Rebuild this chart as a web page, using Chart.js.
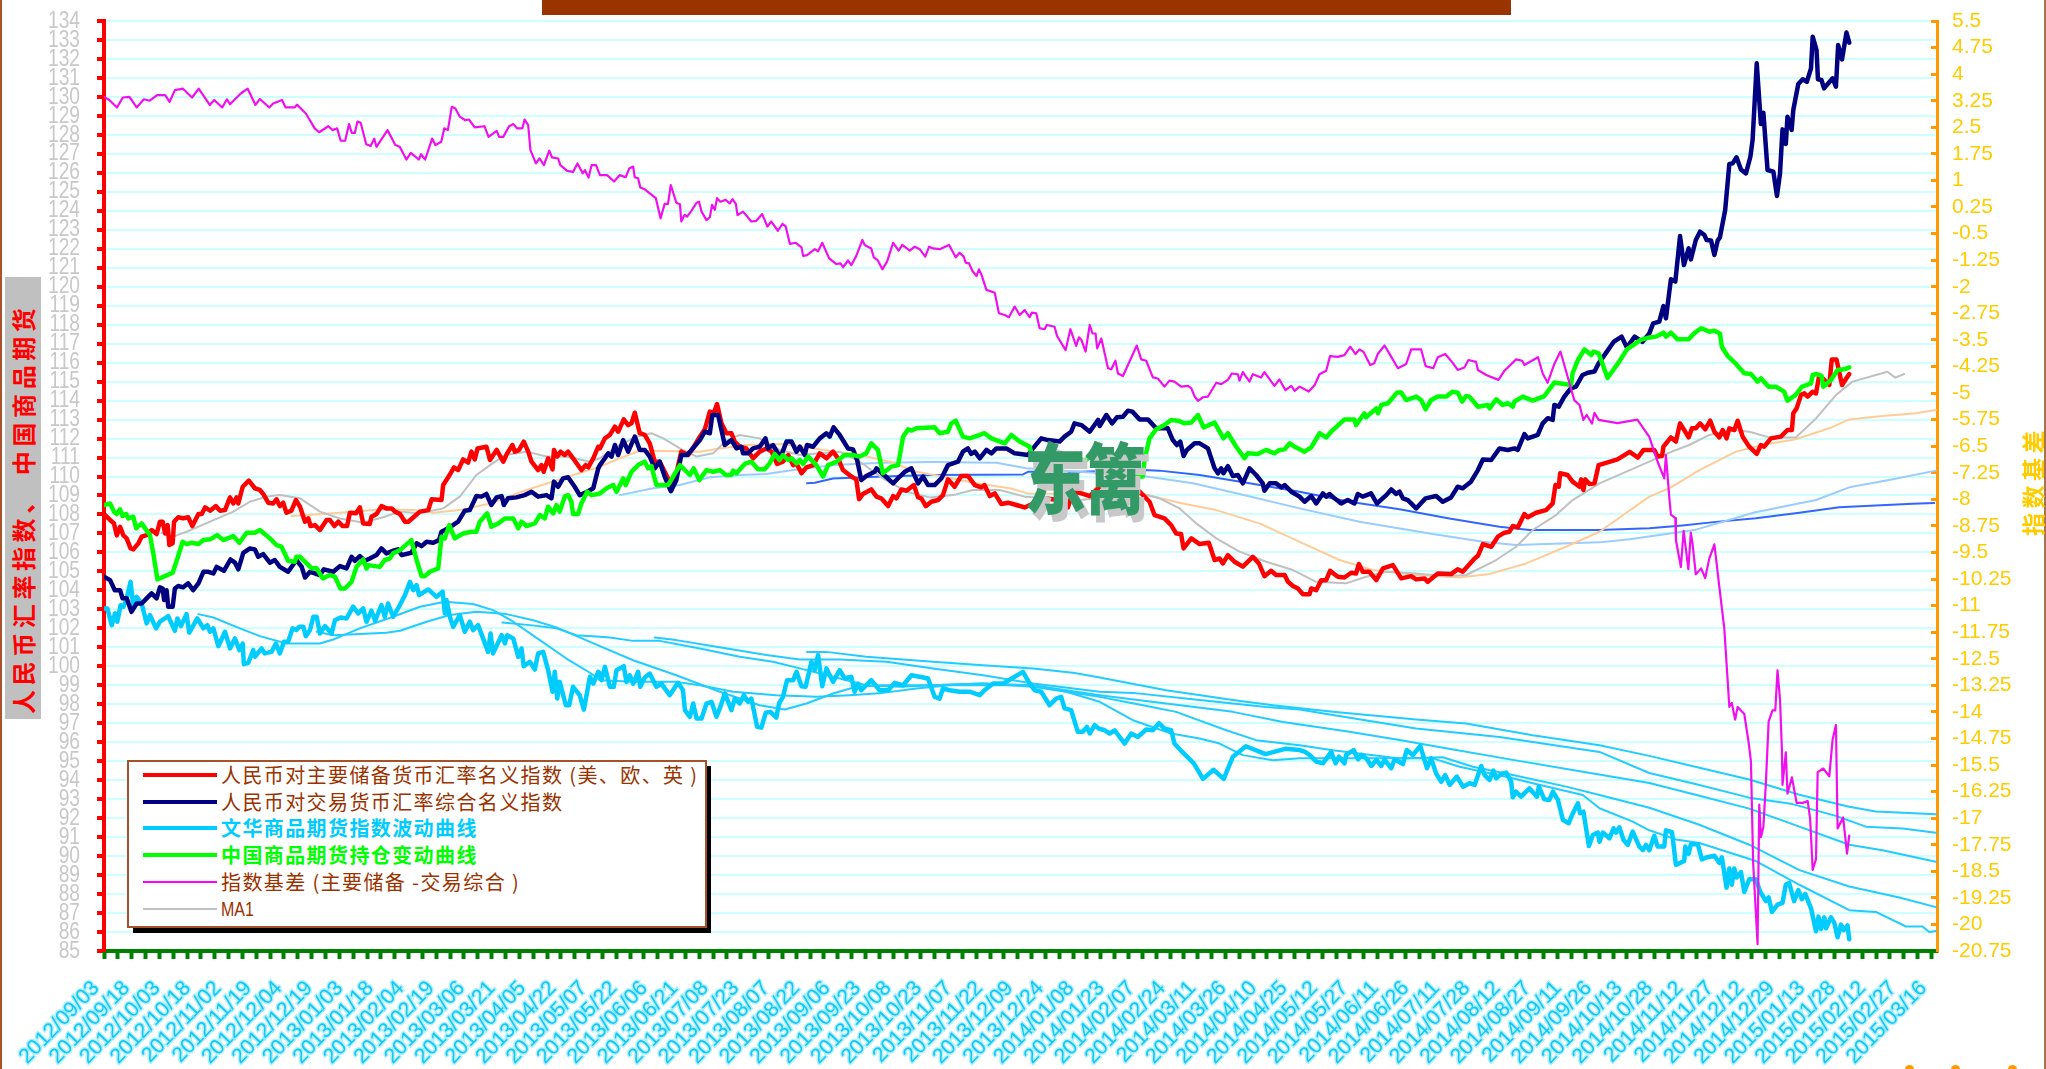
<!DOCTYPE html>
<html lang="zh">
<head>
<meta charset="utf-8">
<title>人民币汇率指数、中国商品期货</title>
<script src="https://cdn.jsdelivr.net/npm/chart.js@4"></script>
<style>
html,body{margin:0;padding:0;background:#fff;}
#wrap{position:relative;width:2046px;height:1069px;overflow:hidden;background:#fff;font-family:"Noto Sans CJK SC",sans-serif;}
canvas{position:absolute;left:0;top:0;}
.abs{position:absolute;}
#bar{left:542px;top:0;width:969px;height:15px;background:#993300;}
#edgeL{left:0;top:0;width:2px;height:1069px;background:#a8532a;}
#edgeR{left:2044px;top:0;width:2px;height:1069px;background:#a8734f;}
#boxL{left:5px;top:277px;width:36px;height:442px;background:#C0C0C0;}
.vtext{white-space:nowrap;transform-origin:0 0;transform:rotate(-90deg);font-weight:700;line-height:1;}
#titleL{left:11px;top:714px;color:#FF0000;font-size:24px;letter-spacing:4.6px;}
#titleR{left:2021px;top:536px;color:#FFCC00;font-size:23px;letter-spacing:4.5px;}
#legendShadow{left:133px;top:766px;width:578px;height:167px;background:#000;}
#legendBox{left:127px;top:760px;width:576px;height:164px;background:#fff;border:2px solid #A5522A;}
.lline{position:absolute;left:143px;width:74px;}
.ltext{position:absolute;left:221px;font-size:20px;letter-spacing:1.4px;line-height:26px;height:26px;white-space:nowrap;color:#993300;}
.wm{font-size:62px;font-weight:900;color:#339966;text-shadow:5px 6px 0 #C8C8C8;transform-origin:0 0;transform:scaleY(1.24);line-height:1;}
.dot{width:9px;height:9px;border-radius:50%;background:#FF9900;top:1065px;}
</style>
</head>
<body>
<div id="wrap">
<canvas id="c" width="2046" height="1069"></canvas>
<div id="bar" class="abs"></div>
<div id="edgeL" class="abs"></div>
<div id="edgeR" class="abs"></div>
<div id="boxL" class="abs"></div>
<div id="titleL" class="abs vtext">人民币汇率指数、 中国商品期货</div>
<div id="titleR" class="abs vtext">指数基差</div>
<div id="legendShadow" class="abs"></div>
<div id="legendBox" class="abs"></div>
<div id="legendRows"></div>
<div class="abs wm" style="left:1024px;top:436px;">东</div>
<div class="abs wm" style="left:1084px;top:436px;">篱</div>
<div class="abs dot" style="left:1905px;"></div>
<div class="abs dot" style="left:1951px;"></div>
<div class="abs dot" style="left:2008px;"></div>
</div>
<script>
const dateLabels = ["2012/09/03","2012/09/18","2012/10/03","2012/10/18","2012/11/02","2012/11/19","2012/12/04","2012/12/19","2013/01/03","2013/01/18","2013/02/04","2013/02/19","2013/03/06","2013/03/21","2013/04/05","2013/04/22","2013/05/07","2013/05/22","2013/06/06","2013/06/21","2013/07/08","2013/07/23","2013/08/07","2013/08/22","2013/09/06","2013/09/23","2013/10/08","2013/10/23","2013/11/07","2013/11/22","2013/12/09","2013/12/24","2014/01/08","2014/01/23","2014/02/07","2014/02/24","2014/03/11","2014/03/26","2014/04/10","2014/04/25","2014/05/12","2014/05/27","2014/06/11","2014/06/26","2014/07/11","2014/07/28","2014/08/12","2014/08/27","2014/09/11","2014/09/26","2014/10/13","2014/10/28","2014/11/12","2014/11/27","2014/12/12","2014/12/29","2015/01/13","2015/01/28","2015/02/12","2015/02/27","2015/03/16"];

const majorIdx = [0,2.2,3.6,4.6,5.8,7,8.2,9.6,10.6,12.4,13.6,15.4,17.2,19,20.2,21.2,22.1,23,23.6,24.8,25.3,26.8,28.6,30.4,31.9,34.1,35.3,36.5,38.3,40.4,41.9,43.7,45.5,46.7,47.9,48.5,50.1,52.3,54.5,56.3,57.5,59.3,61.1,62.3,63.5,64.7,65.9,67.7,69.3,70.8,72.6,73.8,74.6,76.2,78,80.4,81.6,83.2,84.6,86.2,87.8,88.8,91,92.4,93.6,96,96.6,98.4,100.2,102,103.9,105.1,106.9,108.7,109.9,112.3,114.1,117.1,118.3,121.9,122.5,124.3,126.4,127.9,129.7,131.5,132.7,133.9,134.9,138.1,139.4,141.8,144.2,145.6,147.5,148.4,149.9,151.6,153.2,154.4,156.8,158,158.8,160.4,162,162.5,163.7,164.9,166.4,167.6,169.4,172.4,174,174.9,176.7,178.5,179.1,180.9,182.7,184.5,185.7,187.7,189.3,190.5,191.7,193.5,195.3,197.1,198.9,200.7,202.5,203.7,205,206.7,208.5,211,213.4,215.2,217,218.8,220.2,221.4,223,224.8,226.6,227.8,229.6,232,234.4,236.8,239.2,241.1,243.1,245.2,247.1,248.9,250.1,251.9,253.7,256.1,258.5,260.9,263.3,265.1,266.9,269.9,271.7,272.7,274.1,277.1,279,280.7,283.2,285,286.2,288,289.8,292.5,294,295.2,296.8,298.8,301.2,303,304.8,307.2,309.6,312,314.5,316.8,318,319.9,321.7,324.1,326.5,329.5,332.5,339.7,344.5,345.7,348.1,350,353,356,359.6,372.2,374,377.6,379.4,383,385.4,387.2,389,389.9,392.7,395.7,399,401.1,402.9,404.1,405.9,408.3,411.3,414.9,417.1,419.1,421.5,423.3,426.4,427.6,429.4,431.2,433,435.4,436,437.8,439.6,441.4,442.8,445.6,448,450.4,452.2,453.2,454.6,457,459.5,461.9,465.5,468.5,472.1,473.9,476.9,478.1,481.7,486.5,488.9,490.7,495,496.2,498,501,503.4,505.8,507.6,508.8,510.6,513,514.2,517.2,520.8,523.2,524.2,525.4,525.9,528.6,530.4,532.9,533.5,534.3,535,536.5,538.3,539.8,546.6,551,554,556,558.1,559.9,561.1,562.7,563.2,565.9,567.7,569.2,570.7,572.3,573.5,574.9,576.4,578.3,580.1,581.6,583.4,584.6,586,587,588.8,590,591.8,594.2,596.9,598.4,599.6,602,605.6,608,609.6,610.1,611.3,612.9,614.1,615.3,617.1,618.3,619.5,620.7,623.1,624,625.7,627.7,630.3];
const majorVal = [108.02,107.71,107.53,106.9,107.35,106.9,106.74,106.21,106.16,106.48,106.83,106.91,107.18,106.97,107.62,107.62,107,107.44,106.39,106.48,107.62,107.85,107.8,107.85,107.39,108.02,108.02,108.37,108.2,108.44,108.2,108.23,108.9,108.58,108.9,108.58,109.46,109.78,109.38,109.29,109.08,108.62,108.58,108.8,108.44,108.62,108.09,108.2,108.76,108.41,107.62,107.8,107.39,107.44,107.18,107.71,107.71,107.39,107.62,107.39,107.39,108.09,108.06,108.37,107.53,107.5,107.88,108.02,108.44,108.32,108.32,108.15,108.02,107.62,107.62,107.92,108.15,108.23,108.8,108.76,109.55,109.96,110.48,110.34,110.9,110.73,111.31,110.9,111.48,111.57,110.87,111.4,110.78,111.22,111.66,111.31,111.4,111.84,111.31,110.78,110.34,110.6,110.25,110.96,110.38,111.4,111.05,111.31,111.13,111.31,110.96,110.34,110.6,110.48,110.96,111.57,111.48,112.01,112.19,112.63,112.36,113.01,112.71,112.8,113.36,112.28,112.19,111.75,110.78,110.78,110.25,109.9,109.29,110.17,111.31,111.13,111.66,112.1,112.49,113.42,113.33,113.82,112.8,112.28,112.28,111.84,111.57,111.48,110.96,111.31,111.48,111.31,110.66,110.78,111.13,110.6,110.69,110.17,110.48,110.6,111.22,110.96,111.31,110.96,110.34,110,109.85,108.8,109.08,109.32,108.94,108.85,108.44,108.97,108.85,109.32,109.25,109.55,108.9,108.85,108.44,108.67,108.76,109.02,109.85,109.46,110.03,110.03,109.55,109.43,109.55,108.97,109.11,108.55,108.62,108.5,108.37,108.85,108.76,108.32,108.37,109.2,109.11,108.97,109.46,109.46,109.2,108.67,107.97,107.79,107.44,107,106.97,106.21,106.74,106.44,106.51,105.6,105.68,105.42,105.86,105.51,105.25,105.77,105.42,104.75,105.03,104.81,104.81,104.45,104.23,104.1,103.8,103.8,104.1,104.01,104.54,104.54,105.03,104.72,104.68,104.93,104.89,105.39,104.98,104.98,104.54,105.16,105.33,104.63,104.75,104.58,104.63,104.45,104.89,104.86,105.11,104.98,105.68,105.82,106.44,106.3,106.83,107.04,107.09,107.39,107.32,108.02,107.85,108.09,108.23,108.58,109.55,109.46,110.17,110.08,109.73,109.46,109.85,109.29,109.85,109.6,109.64,110.6,110.9,111.3,111,111.4,111.4,111.4,111.05,111.08,111.57,112.06,111.84,112.8,112.45,112.06,112.54,112.54,112.8,112.49,112.94,112.36,112.06,112.45,112.01,112.54,112.45,112.94,112.1,111.57,111.19,111.66,111.57,112.01,112.1,112.45,112.45,113.33,113.59,114.3,114.38,114.21,114.47,114.38,115.35,115.17,114.82,116.17,116.17,114.82,115.4];

const tradeIdx = [0,2.2,3.9,5.8,6.7,8.2,9.9,11.8,13.6,15.4,17.2,19,20.2,21.2,21.7,22.6,23.2,24.8,25.6,26.8,28.6,30.4,32.2,34.1,35.9,37.7,39.5,40.7,43.3,45.7,47.3,48.5,50.3,52.7,54.5,55.7,57.5,59.9,61.7,63.5,66.5,69.5,71.4,72.6,74.4,76.2,78,79.4,82.8,85.2,87.6,89.4,90.6,92.4,94.2,96,98.4,100.2,102,104.4,106.2,107.5,111,112.9,114.7,116.5,118.9,121,121.9,124.3,127.9,130.3,132.1,134.5,136.3,138.1,139.9,141.8,143.6,144.4,145.9,148.9,151.9,154.4,156.8,159.8,161.6,162.5,164,165.8,167.6,170,171.8,174.5,176.7,178.5,179.1,180.9,182.1,183.3,184.5,185.7,187.5,189.3,191.7,193.5,195.3,197.1,198.9,200.7,202.5,204.7,206.7,208.5,210.6,212.2,215.2,217,218.8,219.7,221.8,223,224.2,226.6,228.4,230.2,230.8,232.6,234.4,236.8,238.9,239.8,241.6,243.4,244.6,246.5,248.3,250.1,251.3,253.1,253.9,256.1,258.5,260.9,262.1,263.5,265.7,268.7,270.5,272,273.5,275.3,278.3,279,282.6,285,287.4,289.2,291.6,294,295.8,297.6,300,302.4,304.8,308.4,310.2,312,313.2,314.5,316.3,318.7,320.5,322.3,325.9,328.9,333.7,335.5,338.5,340.9,345.1,346.9,349.3,350.5,353,356,359,359.6,362,364.1,365.8,368,369.8,371.4,374,377,380,384.2,386,387.5,388.7,389.9,391.1,393.9,395.7,398.7,401.1,402.3,403.5,404.3,405.9,407.7,409.5,411.3,413.7,416.1,418.5,419.1,421,423.3,425.2,426.4,428.8,431.8,433.6,436,437.8,440.2,441.4,442.6,444.4,446.8,449.2,451.6,452.8,454.6,457.6,459.7,463.1,464.9,466.7,467.9,469.1,470.9,473.9,477.3,481.1,483.5,486.5,488.9,490.7,493.7,496.2,498,501,504,507,509.4,510.6,513,514.2,517.8,519.6,521.4,523.2,523.8,525.4,527.4,529.8,531.6,534,535.9,538.3,539.8,542.4,545.2,548.1,550,552.8,555.6,558.1,559.5,561.7,563.2,564.1,565.9,567.5,569.2,570.6,572.3,573.1,574.9,576.4,578,578.8,580.4,581.6,582.8,583.6,585.5,587,588.2,589.6,591.2,593,594.6,595.4,596.9,598.4,599.3,600.8,602.9,604.2,605.3,606.2,607.4,608,609.5,610.1,611.9,613.5,615,616.5,617.1,618.5,619,620.3,621.2,624.3,625.5,626.3,627.7,629.3,630.3];
const tradeVal = [104.72,104.54,104.01,104.01,103.58,103.58,102.87,103.31,103.31,103.58,103.84,103.58,104.16,104.1,103.49,104.01,103.14,103.14,104.1,104.23,104.16,104.37,104.01,104.37,104.98,104.98,104.89,105.24,105.03,105.63,105.46,105.11,105.98,106.21,106.16,105.77,105.91,105.46,105.6,105.24,104.98,105.6,105.24,104.68,104.98,104.89,104.81,105.11,104.98,105.28,105.16,105.77,105.56,105.81,105.56,105.68,105.86,106.21,105.95,106.09,106.16,105.86,105.98,106.48,106.33,106.56,106.51,106.65,107.09,107.27,107.62,108.2,108.23,108.97,108.94,109.08,108.5,108.9,108.97,108.5,108.85,108.9,109.02,109.2,108.94,109.02,108.85,109.73,109.46,109.9,109.96,109.46,109.02,109.2,109.38,110.43,110.6,110.96,111.22,111.05,111.66,111.13,111.92,111.31,112.1,111.4,111.4,111.05,110.43,110.78,110,109.23,109.81,111.13,111.13,111.4,111.92,112.36,112.28,113.24,113.24,112.45,111.66,111.92,111.48,111.57,111.22,111.22,111.48,111.57,112.01,111.48,111.66,111.22,111.13,111.84,111.84,111.31,111.57,111.13,111.66,111.57,112.01,112.28,112.1,112.59,112.19,111.48,111.43,110.87,109.81,110.03,110.25,110.43,109.96,109.64,110,110.25,110.43,109.64,110,109.55,109.55,109.9,110.6,110.78,111.31,111.48,111.19,111.31,110.96,111.4,111.22,111.48,111.48,111.22,111.13,111.48,112.01,111.92,111.84,112.1,112.36,112.8,112.71,112.36,112.98,112.66,113.24,112.8,113.12,113.15,113.47,113.42,113.01,113.01,112.54,112.54,111.92,111.66,111.84,111.08,111.4,111.75,111.75,111.48,110.43,110.17,110.43,110.17,110.55,110.03,110.08,109.64,110.43,110.08,109.64,109.25,109.64,109.64,109.43,109.55,109.2,108.94,108.67,108.97,108.58,109.11,108.94,109.08,108.85,108.58,108.76,108.58,109.08,108.94,109.11,108.58,109.02,109.32,109.08,109.2,108.85,108.76,108.32,108.85,108.97,108.67,108.9,109.46,109.38,109.73,110.34,110.9,110.87,111.48,111.4,111.48,111.4,112.24,112.01,112.19,112.8,113.07,112.98,113.77,113.68,114.21,114.65,114.74,115.35,115.47,115.53,115.96,116.5,117.09,117.37,116.8,117.37,117.09,117.54,118.07,118.16,118.98,118.33,120.39,120.27,122.67,121.14,122.02,121.44,122.46,122.9,122.72,122.46,122.43,121.67,122.43,122.6,124.04,126.47,126.5,126.82,126.18,125.97,126.85,127.73,131.77,128.57,129.17,126.15,126.06,124.78,125.97,128.29,127.52,128.96,128.26,129.31,130.68,130.93,130.8,131.5,133.17,132.47,130.93,130.89,130.45,130.98,130.54,132.73,131.98,133.39,132.86];

const wenhuaIdx = [0,1.2,2.8,4,4.8,6,7,8.2,9.6,10.6,11.8,13.6,15.4,16.6,18.8,20.2,23.2,25.6,26.5,27.8,29.8,30.8,33.7,35.9,37.3,38.3,39.5,41.3,43.7,45.5,47.3,48.9,50.1,50.5,52.1,53.9,54.5,56.9,58.1,60.5,62.1,63.5,65,66.5,68.1,69.5,70.5,72,72.9,74.4,75.6,76.8,78,79.8,82.2,83.4,85.4,87.6,90,91.8,93.6,94.8,96.6,97.9,100.2,101.4,102.6,104.4,106.2,108.7,110.5,111.7,112.9,113.8,117.1,120.1,122.3,123.1,123.7,124.9,126.1,128.5,130.3,132.1,133.3,135.1,136.9,138.7,139.6,140.5,143.6,144.8,145.6,147.8,149.6,150.8,151.6,153.8,155.6,156.8,158.6,160.4,162,162.8,163.7,164.6,166.8,168,169.4,171.8,173.3,175.5,176.7,178.5,179.1,179.7,180.9,182.7,184.1,185.1,187.7,188.7,189.9,191.1,192.9,193.7,195.3,197.1,199.5,201.3,204.3,207.3,209.1,209.8,211.6,212.8,214,215.8,217.6,219.4,221.2,222.4,224.2,226.6,227.8,229.6,231.1,232.6,233.8,235.9,237.4,239,240.7,242.8,243.8,245.2,246.7,248.9,250.1,251.9,253.4,255.5,256.7,257.9,259.4,260.9,263.3,265.7,267.5,269.9,271.1,272.3,273.5,277.1,280.1,283.2,285.6,288.6,291.6,294.6,297.6,300,301.8,303,305.4,309,312.6,316.3,318,321.1,324.7,328.9,331.9,334.3,336.1,338.5,341.5,343.9,345.7,346.9,349.3,351.7,353.5,355,356,357.8,359.3,361.4,363.2,365,368.6,371,373.4,376.4,378.8,381,383,385.4,386.6,388.8,393.6,396.9,400.7,404.4,407.7,412.4,419.5,426.6,431.8,433.6,435.4,437.8,440.2,442,443.2,444.8,446,448,448.6,451.3,452.9,454.1,455.9,457.7,459.5,461.3,462.5,464.9,466.1,469.1,470.5,472.7,475.4,477.8,479.3,481.1,482.9,484.4,486,488.6,490.8,493.2,495,497.4,498.6,500.4,501.8,502.8,504.6,506.4,508.2,508.8,510,511.8,514.8,517.5,518.2,520.2,522,523.3,525.1,526.9,529,530.2,532.3,533.1,534.3,536.3,537.7,539.5,540.1,541.3,543.7,545.2,546.1,547.3,548.8,550.3,552.1,554.5,555.8,556.9,558.1,559.9,561.1,563.5,564.1,566.3,567.7,570.7,571.1,572.3,573.1,575.6,577.1,578.6,581.6,583.4,584.3,586,587,587.9,588.8,589.6,591.2,592.4,594.2,596.6,598.2,600.2,601.2,602.4,604.4,606.2,607.4,608.6,610.4,611.9,613.2,614.4,616.5,618.3,619.2,620.1,621.3,621.9,623.7,624.9,626.1,627.3,628.3,629.7,630.3];
const wenhuaVal = [103.05,103.05,102.17,102.79,102.35,103.22,103.14,103.58,104.45,103.14,103.66,103.31,102.26,102.7,102,102.35,102.64,101.87,102.52,102.12,102.75,101.77,102.52,102,102.17,101.82,102,101.06,101.82,100.94,101.47,100.85,101.2,100.11,100.18,100.85,100.5,100.94,100.68,100.76,101.2,100.68,101.29,101.29,102,101.91,102.08,102.08,101.59,101.91,102.61,102.61,101.73,102.12,101.73,102.43,102.57,102.52,103.14,102.79,103.05,102.35,102.93,102.4,103.22,102.61,103.31,102.61,103.05,103.75,104.45,104.01,104.28,103.75,104.05,103.66,103.93,102.79,103.49,102.61,102.08,102.7,101.82,102.35,101.91,102.17,101.47,100.76,101.73,100.68,101.64,101.2,101.64,101.47,100.5,100.94,100.01,100.24,99.83,100.68,100.76,99.8,98.66,99.71,98.3,99.18,97.95,97.95,98.92,98.48,97.72,99.45,99.09,99.71,99.62,99.27,99.97,98.92,98.92,99.8,100.01,99.18,99.53,99.09,99.71,98.92,99.41,99.62,98.92,99.09,98.48,99.13,98.74,97.69,97.34,98.04,97.25,97.25,98.04,98.13,97.34,97.78,98.57,97.69,98.3,98.04,98.48,98.13,98.3,96.81,96.77,97.55,97.6,97.3,98.04,98.39,99.27,99.27,99.71,98.95,98.92,100.24,99.8,100.59,98.95,99.89,99.18,99.8,99.36,99.45,98.66,99.09,98.74,99.27,98.74,98.74,99.13,99,99.53,99.45,99.36,98.39,98.3,98.83,98.74,98.66,98.66,98.48,98.74,99.09,99.09,99.45,99.71,99.09,98.74,98.66,97.95,98.3,98.39,97.78,97.69,96.55,96.55,96.81,96.46,96.9,96.72,96.63,96.46,96.63,95.93,96.46,96.28,96.67,96.63,97,96.72,96.63,95.93,95.58,94.89,94.07,94.55,94.07,95.24,95.79,95.37,95.65,95.59,95.5,95.33,94.98,94.89,95.24,95.5,94.89,95.24,94.89,95.33,95.59,95.1,95.33,95.15,94.75,95.07,94.75,95.07,94.63,95.1,94.85,95.59,95.33,95.8,94.63,95.15,94.36,93.92,94.27,93.75,94.19,93.66,93.84,93.75,94.75,94.27,94.01,94.5,94.1,94.33,94.4,93.92,93.1,93.4,93.13,93.57,93.13,93.66,92.99,92.96,93.4,92.96,91.9,91.73,92.17,92.78,92.26,92.34,90.53,91.11,91.24,90.76,91.24,90.94,91.46,91.24,91.52,90.85,90.59,91.29,90.5,90.32,90.59,90.31,91.07,90.5,90.5,91.36,91.26,89.54,89.74,90.5,90.12,90.63,90.63,89.83,89.93,90.02,89.64,89.93,88.34,89.35,88.49,89.35,88.87,89.16,88.11,88.78,88.78,88.11,87.63,87.82,87.06,87.44,87.54,88.49,88.59,87.63,88.21,87.73,88.01,87.25,86.04,86.81,86.16,86.77,86.2,86.77,86.49,85.72,86.39,86.1,86.35,85.62];

const holdIdx = [0,2.2,3.6,4.6,5.8,6.7,8,8.8,10.6,11.6,13.6,16.6,17.8,19.3,22,24.8,26.5,28.4,29.8,31.6,34.1,35.9,38.3,40.9,43.1,46.7,48.9,51.5,54.5,56.3,59.9,62.3,64.1,66.5,68.9,69.5,70.8,73.2,75,76.8,79,81.6,83.4,85.4,87,89.4,91.2,93.6,94.8,95.4,99.6,101.4,103.2,104.4,106.9,111,112.9,114.7,115.9,117.7,120.7,121.9,123.1,124.7,126.7,129.7,132.7,134.5,135.7,138.4,139.9,142.4,144.8,147.8,149.6,150.8,152.6,155.6,157.4,159.2,160.4,162.2,163.4,164.6,166.4,167.6,168.8,169.4,171.2,172.4,174.5,176,178.5,179.1,181.5,183.9,185.1,187.5,188.4,190.5,192.9,195.3,196.5,197.7,199.5,203.7,208,210.4,211.6,213,215,217.6,220,222.4,224.6,226.6,227.2,228.4,231.4,233.8,236.2,238.6,240.4,242.2,244,245.2,247.1,248.3,250.1,251.3,252.5,254.3,257.3,259.7,261.5,264.5,267.5,270.5,272.9,275.3,277.1,279.5,281.3,284.3,286.8,288.6,290.4,291.6,293.4,300,301.8,304.8,306,307.6,310.2,312.6,314.5,318,320.5,325.3,327.7,330.7,334.3,335.5,340.3,345.1,348.1,351.1,354.1,356.6,359.6,371.6,375.2,375.8,377.6,380,383,385.4,387.8,390.3,392.7,395.1,397.1,401.1,404.3,405.9,408.9,411.9,413.1,416.7,419.7,422.7,424.5,426.4,428.2,430,433.6,436,439,441.4,443.2,448,451.6,452.2,455.2,455.8,459.5,460.1,461.3,463.7,467,468.5,470.3,473.9,475.7,477.3,479.3,481.7,484.7,487.1,488.9,490.5,491.9,493.1,496.2,499.8,500.4,502.8,505.2,507,508.8,509.4,512.4,516,520.2,523.8,529.8,530.4,532.3,534.7,537.1,537.9,539.8,543,547,550,555,558.1,560.5,563.2,564.1,565.9,568.3,572.3,574.3,576.8,579.8,581.6,583.6,584.3,586.4,589.4,592.4,594.8,597.2,598.4,601.2,603.8,606.8,608,611,613.2,616.5,617.1,618.5,620.3,620.9,623.7,626.1,628.5,630.3];
const holdVal = [108.5,108.58,108.15,108.02,108.27,107.92,108.02,107.79,107.88,107.27,107.53,106.91,105.95,104.58,104.75,104.93,105.68,106.56,106.44,106.51,106.44,106.65,106.69,106.91,106.65,106.86,106.51,107.04,107.04,107.18,106.74,106.39,106.3,105.56,105.51,105.77,105.77,105.42,105.16,105.16,104.63,104.81,104.72,104.1,104.1,104.45,105.24,105.63,105.16,105.33,105.24,105.6,105.68,105.95,106.12,106.65,105.6,104.75,104.75,104.98,105.16,106.83,106.74,107.44,106.74,107,107.09,107.09,107.62,108.06,107.35,107.53,107.79,107.79,107.27,107.62,107.39,107.53,107.97,107.79,108.41,108.06,108.5,108.15,108.94,109.02,108.67,108.02,108.02,108.58,109.2,109.02,109.08,109.11,109.38,109.55,109.2,109.9,109.55,110.25,110.6,110.78,110.43,110.55,109.55,109.55,110.6,110.25,110.08,110.43,109.81,110.34,110.25,110.34,110.08,110.08,110.31,110.17,110.66,110.78,110.38,110.38,110.69,111.19,110.87,111.13,110.87,110.96,110.69,110.87,110.66,111.05,110.6,110,110.6,110.78,111.13,111.13,111.05,111.22,111.75,111.4,110.17,110.52,110.6,112.1,112.49,112.42,112.54,112.59,112.28,112.36,112.8,112.94,112.1,112.01,112.1,112.28,112.01,111.75,112.19,111.84,111.57,110.96,110.7,110.43,110.6,111.13,110.78,111.13,110.87,109.96,110,110.87,112.01,112.49,112.71,112.98,112.94,112.8,112.84,113.24,112.59,112.84,112.01,112.28,111.57,110.96,111.22,111.19,111.4,111.22,111.4,111.43,111.75,111.57,111.31,111.54,112.28,112.06,112.36,113.01,113.01,112.71,113.33,113.12,113.59,113.33,113.77,113.86,114.42,114.42,114.03,114.21,114.03,113.54,114.03,114.21,114.21,114.47,114.42,113.95,114.24,114.21,113.68,113.77,113.59,114.07,113.77,113.86,113.68,113.95,114.21,114,114.24,114.95,114.82,115.44,116.14,116.7,116.4,116.58,116.49,115.2,116,116.7,117.2,117.33,117.37,117.58,117.37,117.58,117.23,117.23,117.54,117.81,117.63,117.68,117.54,116.84,116.35,115.93,115.44,115.4,115,115.17,114.73,114.73,114.47,114,114.3,114.73,114.91,115.35,115.4,115.3,114.73,115.08,115.61,115.65,115.75];

const basisIdx = [0,1.9,4.7,6.8,9.2,11.8,14.4,16.5,19.2,22.1,23.7,25.6,28.5,31.8,34.2,38.2,39.8,42.7,44.4,45.5,49.5,51.9,54.7,56.3,59.7,61.1,64.3,65.6,68.9,69.7,72.9,76.1,77.7,81,82.6,84.2,85.5,87.1,88.5,89.5,90.6,91.5,92.7,94.7,96.3,97.6,98.4,102.4,105.2,106.8,109.2,110.8,113.7,114.5,116,118.5,119.7,121.8,122.9,124.2,125.6,126.9,128.5,130.5,131.8,133.9,137.4,138.9,141.8,142.7,144.2,146.3,147.9,149.2,151.1,151.9,153.2,154,156,157.3,158.9,160.8,161.8,164,164.8,167.3,169.4,171,172.9,173.7,175,176.1,177.7,179.1,181.7,184.2,186.3,188.4,189.7,191.1,191.7,192.9,193.7,195.3,199.3,201,202.5,203.7,204.7,206.7,208,208.5,209.7,210.6,212.2,214,214.9,215.8,217.6,218.8,219.6,220.6,221.4,222.6,224.5,226,227,228.2,228.8,230.8,233.8,235.6,237.7,239.6,241,243.4,245,246.2,247.7,249.8,251.9,252.5,253.9,256.7,257.9,259.4,261.9,264.5,266,266.9,268.7,269.9,271.7,273.9,274.7,277.1,278,279.5,281.1,282.8,285,287,288.3,291,292.8,294.6,296.6,298,299.4,301.8,305.2,307.6,309,310.5,311.2,312.4,313.6,315.1,316,316.8,318.7,321.7,323.2,325.3,326.8,328.9,330.7,332.5,334.3,335.1,336.7,337.9,339.7,340.5,343.3,344.2,347.3,349,351.1,352.1,353,354.5,356,357,358.1,358.7,360.2,362.6,363.8,365.3,366.2,368,373,374.6,376.4,378.8,380.6,383,384.8,386.6,389,391.5,392.7,393.9,395.1,396.9,398.7,401.7,403.5,405.9,407.3,409.5,410.1,411.3,413.7,414.9,417.9,419.1,422.7,424.5,426.7,428.8,430,431.8,435.1,437.2,439,441.4,442.8,445.6,448,450.1,452,453.4,454.9,457.3,458.8,460,462.5,464.9,467.3,470.3,472.1,475.7,477.3,480.1,481.7,484.4,487.1,488.9,491.3,492.8,495.5,496.2,499.2,503.6,505.8,510,512.2,513,517.9,519.6,521.4,523.8,526,527.4,529.8,531,532.9,534.3,535.5,537.4,538.3,539.8,546.6,553.8,558.1,559.3,561.1,563.5,564.1,565.3,565.9,567.5,567.7,569.5,570.5,572.2,573.1,573.7,574.9,576.8,578.3,579.8,581.6,583.4,585.2,587,587.9,589.1,590,592.4,594,594.8,595.6,597.2,597.8,598.4,599.3,600.2,601.2,602.6,603.6,604.4,605.3,606,606.2,607.4,608,609.6,611.3,613.5,615.3,616.2,617.1,618.3,618.9,620.9,623.1,624.3,625.5,626.1,628.1,629.5,630.3];
const basisVal = [3.36,3.27,3.06,3.34,3.36,3.06,3.29,3.25,3.41,3.41,3.22,3.55,3.59,3.34,3.59,3.13,3.27,3.06,3.29,3.15,3.46,3.59,3.13,3.3,3.06,3.17,3.27,3.06,3.06,3.14,2.89,2.47,2.36,2.53,2.42,2.47,2.12,2.12,2.59,2.34,2.34,2.66,2.63,2.02,1.97,2.18,1.95,2.42,2,1.95,1.59,1.78,1.59,1.74,1.59,2.18,2,2.09,2.47,2.42,3.08,3.03,2.8,2.7,2.72,2.5,2.53,2.23,2.4,2.23,2.23,2.53,2.59,2.47,2.47,2.72,2.56,1.86,1.48,1.62,1.43,1.84,1.65,1.62,1.43,1.27,1.24,1.48,1.2,1.29,1.08,1.43,1.43,1.15,1.15,0.97,1.15,1.09,1.34,1.39,1.09,1.06,0.8,0.75,0.5,-0.07,0.34,0.34,0.87,0.37,0.33,-0.16,0.03,-0.02,0.15,0.37,0.4,0.12,-0.12,-0.04,0.31,0.17,0.5,0.4,0.45,0.35,0.47,0.34,0.02,0.12,-0.16,-0.14,0.05,-0.3,-0.16,-0.42,-0.23,-0.3,-0.79,-0.76,-0.89,-1.13,-1.11,-0.94,-1,-0.76,-1.2,-1.36,-1.34,-1.45,-1.26,-1.39,-1.13,-0.68,-0.82,-0.92,-1.17,-1.26,-1.51,-1.29,-0.76,-0.98,-0.82,-0.98,-0.87,-0.94,-1.15,-0.87,-0.92,-0.94,-0.82,-1.17,-1.04,-1.15,-1.32,-1.34,-1.55,-1.7,-1.51,-1.64,-2.09,-2.17,-2.75,-2.8,-2.86,-2.56,-2.8,-2.66,-2.86,-2.73,-2.75,-3.17,-3.2,-3.08,-3.13,-3.39,-3.79,-3.2,-3.67,-3.43,-3.5,-3.83,-3.08,-3.32,-3.32,-3.74,-3.46,-4.3,-4.33,-4.09,-4.45,-4.52,-3.66,-4.05,-4.09,-4.56,-4.59,-4.82,-4.65,-4.68,-4.82,-4.8,-4.87,-5.1,-5.22,-5.12,-5.1,-4.71,-4.75,-4.63,-4.45,-4.47,-4.65,-4.41,-4.68,-4.47,-4.56,-4.41,-4.8,-4.62,-4.92,-4.8,-4.94,-4.82,-4.96,-4.78,-4.47,-4.37,-3.96,-3.98,-3.93,-3.69,-3.9,-3.77,-3.84,-4.21,-4.16,-3.9,-3.66,-3.98,-4.3,-4.18,-3.77,-3.77,-4.24,-4.3,-3.99,-3.9,-4.15,-4.35,-4.28,-4.07,-4.12,-4.35,-4.49,-4.63,-4.37,-4.05,-4.09,-4.21,-3.99,-4.45,-4.71,-4.18,-3.83,-4.21,-4.87,-5.2,-5.34,-5.76,-5.62,-5.86,-5.56,-5.76,-5.85,-5.75,-6.24,-6.52,-6.94,-7.41,-6.75,-7.93,-8.43,-8.53,-9.15,-9.91,-8.89,-9.97,-8.94,-9.25,-10.12,-9.95,-10.22,-9.66,-9.27,-10.48,-11.66,-13.86,-13.75,-14.22,-13.86,-14.06,-14.88,-15.39,-18.26,-20.56,-16.62,-17.54,-17.24,-16.01,-14.27,-13.96,-13.96,-12.83,-13.65,-15.09,-16.06,-15.14,-16.31,-15.85,-16.57,-16.57,-16.52,-17.03,-18.46,-18.16,-15.7,-15.6,-15.82,-14.78,-14.37,-17.29,-16.98,-18,-17.49];

const ma1Idx = [20.8,25,29.8,38.3,46.7,52.7,58.7,63.5,70.8,78,85.2,93.6,100.8,106.9,114.1,122.5,128.5,134.5,139.4,144.8,152.6,159.8,167,175.5,179.1,185.1,192.3,197.7,202,208,214,220,224.8,229.6,236.8,244,251.3,258.5,265.7,273,281.3,289.8,298.2,306.6,313.8,323.5,332.5,352.3,375.2,381.2,388.5,394.5,401.7,410.1,419.7,429.4,437.8,448.6,455.8,463.1,473.9,484.7,492,502.8,510,516,524.4,530.4,540.1,558.1,565.3,572.5,579.8,588.2,594.2,601.4,611,618.3,625.5,631.5,639.9,644.1,646.9,650.2];
const ma1Val = [107.04,106.83,107.09,107.62,108.15,108.67,108.94,109.02,108.85,108.15,107.79,107.57,107.85,108.15,108.06,108.32,108.94,110.08,110.6,111.13,111.31,111.05,111.05,110.78,110.96,111.57,112.1,112.28,112.01,111.48,111.05,111.22,111.92,112.19,112.01,111.4,111.13,111.22,111.31,110.78,109.9,109.2,108.9,109.02,109.29,109.29,108.94,108.76,109.08,108.85,108.32,107.53,106.74,106.04,105.51,105.07,104.45,104.37,104.72,104.98,104.89,104.75,104.81,105.6,106.3,107.18,107.97,108.76,109.64,110.78,111.26,111.66,112.19,112.45,112.36,112.06,112.06,113.06,114.29,115,115.35,115.52,115.21,115.4];

const ma2Idx = [67.7,82.8,100.8,111.7,118.9,128.5,139.4,152.6,167,179.1,186.3,193.5,203.1,215.2,222.4,232,245.2,258.5,273,283.8,293.4,304.2,315.1,327.1,333.7,375.2,389.6,401.7,417.3,431.8,446.2,458.2,473.9,489.5,500.4,513.6,528,540.1,558.1,565.3,576.2,589.4,599,611,623.1,630.3,642.3,654.4,661.6];
const ma2Val = [107.92,108.06,108.27,108.23,108.09,108.23,108.58,109.29,109.96,110.52,110.96,111.36,111.34,111.31,111.48,111.66,111.71,111.43,111.13,110.78,110.25,109.96,109.64,109.38,109.11,109.08,108.58,108.23,107.53,106.56,105.6,105.07,104.81,104.68,104.86,105.42,106.3,107.09,108.94,109.38,110.34,111.31,111.66,111.96,112.54,113.01,113.19,113.33,113.5];

const ma3Idx = [186.3,198.3,208,218.8,229.6,239.2,248.9,263.3,281.3,299.4,322.3,333.1,375.2,393.3,410.1,431.8,453.4,479.9,498,510,540.1,551,575,596,618.3,630.3,644.7,661.6];
const ma3Val = [109.02,109.38,109.55,109.96,110.08,110.13,110.34,110.6,110.73,110.76,110.73,110.43,110.03,109.64,109.08,108.32,107.62,106.97,106.56,106.39,106.53,106.7,107.2,108.1,108.76,109.43,109.82,110.31];

const ma4Idx = [253.9,256.7,263.3,281.3,299.4,331.9,333.7,352.3,375.2,381.2,395.7,413.7,431.8,449.8,467.9,485.9,504,514.8,540.1,558.1,570.1,582.2,596.6,612.3,626.7,639.9,653.2,661];
const ma4Val = [109.64,109.67,109.9,110,110.08,110.11,110.25,110.25,110.34,110.31,110.08,109.64,109.2,108.67,108.27,107.79,107.35,107.18,107.18,107.27,107.42,107.61,107.8,108.09,108.38,108.47,108.57,108.6];

const wmaAIdx = [34.1,39.5,49.1,56.3,65.9,78,82.8,92.4,104.4,114.1,123.1,133.3,140.5,147.8,157.4,167,175.5,179.1,191.1,206.7,215.2,227.2,242.8,257.3,269.3,281.3,293.4,305.4,335.5,347.5,359.6,371.6,385.4,395.7,402.9,411.3,422.1,431.8,479.9,489.6,508.8,516,534.1,540.1,552.1,558.1,567.7,576.2,596.6,612.3,630.3,639.9,650.8,656.8,659.2,661.6];
const wmaAVal = [102.75,102.57,102,101.59,101.2,101.2,101.41,102,102.61,103.14,103.4,103.28,102.96,102.35,101.38,100.41,99.66,99.27,99.18,99.18,99,98.66,98.48,98.39,98.48,98.6,98.83,99,99,98.66,98.13,97.16,96.46,96.2,95.93,95.32,95.05,95.15,95.15,94.71,94.1,93.84,93.22,92.52,91.82,91.36,90.88,90.69,89.74,88.49,87.15,87.06,86.29,86.29,86,86.05];

const wmaBIdx = [76.8,82.8,102,106.9,116.5,124.9,134.5,145.4,155,163.4,179.1,191.1,206.7,222.4,236.8,245.9,253.7,263.3,271.7,281.3,298.2,317.5,335.5,359.6,375.2,387.2,405.3,416.1,431.8,443.8,467.9,483.5,494.4,508.8,528.1,540.1,558.1,576.2,594.2,612.3,630.3,648.4,661.6];
const wmaBVal = [101.82,101.64,101.77,101.87,102.35,102.7,102.87,102.75,102.43,102.05,101.06,100.32,99.53,98.66,97.95,97.72,98.04,98.57,98.92,99,99,99.09,98.92,98.39,97.95,97.6,96.63,96.11,95.84,95.58,95.14,95.21,94.71,94.27,93.66,93.22,92.55,91.65,90.6,89.26,88.4,87.82,87.31];

const wmaCIdx = [143.9,153.8,163.4,170.6,179.1,182.7,191.1,200.7,215.2,229.6,241.6,251.3,263.3,275.3,287.4,299.4,317.5,335.5,359.6,383.6,407.7,425.8,449.8,467.9,484.7,508.8,534.1,558.1,576.2,594.2,612.3,630.3,642.3,661.6];
const wmaCVal = [102.31,102.17,102,101.64,101.56,101.52,101.34,101.34,100.94,100.5,100.24,99.89,99.45,99,98.92,99,99.09,99,98.48,98.04,97.6,97.07,96.55,96.12,95.68,95.07,94.45,93.85,93.18,92.5,91.55,90.6,90.31,89.7];

const wmaDIdx = [198.9,206.7,221.2,239.2,251.3,265.7,282.6,299.4,317.5,335.5,359.6,371.6,395.7,419.7,431.8,443.8,473.9,504,540.1,558.1,576.2,594.2,609.8,625.5,636.3,649.6,661.6];
const wmaDVal = [101.52,101.38,101.03,100.59,100.36,100.36,100.24,99.89,99.53,99.09,98.66,98.6,98.22,97.86,97.72,97.43,96.72,96.28,95.49,94.38,93.75,93.08,92.74,92.12,91.55,91.46,91.23];

const wmaEIdx = [253.9,260.9,275.3,299.4,317.5,335.5,350,359.6,383.6,407.7,422.1,443.8,473.9,491.9,516,540.1,558.1,576.2,594.2,612.3,630.3,639.9,661.6];
const wmaEVal = [100.76,100.76,100.5,100.24,100.06,99.89,99.66,99.41,98.74,98.22,97.95,97.6,97.2,96.99,96.37,95.84,95.28,94.65,94.04,93.23,92.6,92.35,92.2];

const seriesNames = ["人民币对主要储备货币汇率名义指数 (美、欧、英 )","人民币对交易货币汇率综合名义指数","文华商品期货指数波动曲线","中国商品期货持仓变动曲线","指数基差 (主要储备 -交易综合 )","MA1"];
const seriesColors = ["#FF0000","#000080","#00CCFF","#00FF00","#FF00FF","#C0C0C0"];

const zip = (xs, ys) => xs.map((x, i) => ({ x, y: ys[i] }));
const line = (label, xs, ys, color, width, order, yAxisID = "y") => ({
  label, data: zip(xs, ys), borderColor: color, backgroundColor: color, borderWidth: width,
  pointRadius: 0, tension: 0, order, yAxisID, xAxisID: "x", borderJoinStyle: "round", borderCapStyle: "round"
});

const datasets = [
  line(seriesNames[4], basisIdx, basisVal, "#EE11EE", 2.2, 1, "yR"),
  line(seriesNames[3], holdIdx, holdVal, "#00FF00", 4.5, 2),
  line(seriesNames[1], tradeIdx, tradeVal, "#000080", 4.5, 3),
  line(seriesNames[2], wenhuaIdx, wenhuaVal, "#00CCFF", 4.5, 4),
  line(seriesNames[0], majorIdx, majorVal, "#FF0000", 4.5, 5),
  line(seriesNames[5], ma1Idx, ma1Val, "#C0C0C0", 2, 6),
  line("MA2", ma2Idx, ma2Val, "#FFCC99", 2, 7),
  line("MA3", ma3Idx, ma3Val, "#99CCFF", 2, 8),
  line("MA4", ma4Idx, ma4Val, "#3366FF", 2, 9),
  line("MA-A", wmaAIdx, wmaAVal, "#22CCFF", 2, 10),
  line("MA-B", wmaBIdx, wmaBVal, "#22CCFF", 2, 11),
  line("MA-C", wmaCIdx, wmaCVal, "#22CCFF", 2, 12),
  line("MA-D", wmaDIdx, wmaDVal, "#22CCFF", 2, 13),
  line("MA-E", wmaEIdx, wmaEVal, "#22CCFF", 2, 14)
];

const lastTick = 660;
const everyNth = n => scale => {
  const ticks = [];
  for (let v = 0; v <= lastTick; v += n) ticks.push({ value: v });
  scale.ticks = ticks;
};
const noVerticalPad = s => { s.paddingTop = 0; s.paddingBottom = 0; };
const noSidePad = s => { s.paddingLeft = 0; s.paddingRight = 0; };

new Chart(document.getElementById("c"), {
  type: "line",
  data: { datasets },
  options: {
    responsive: false, animation: false, devicePixelRatio: 1,
    layout: { padding: { top: 21, left: 0, right: 0, bottom: 0 } },
    plugins: { legend: { display: false }, tooltip: { enabled: false }, title: { display: false } },
    scales: {
      x: {
        type: "linear", position: "bottom", weight: 0, min: 0, max: 662,
        ticks: { display: false, autoSkip: false },
        grid: { drawOnChartArea: false, drawTicks: true, tickLength: 8, tickWidth: 4, tickColor: "#008000", color: "#008000" },
        border: { color: "#008000", width: 4 },
        afterBuildTicks: everyNth(5),
        afterFit: s => { s.height = 12; noSidePad(s); }
      },
      x2: {
        type: "linear", position: "bottom", weight: 1, min: 0, max: 662,
        ticks: {
          autoSkip: false, minRotation: 46, maxRotation: 46, padding: 13, labelOffset: -8,
          color: "#14C8F5", textStrokeColor: "rgba(0,204,255,0.3)", textStrokeWidth: 3,
          font: { family: "Liberation Sans", size: 21 },
          callback: v => dateLabels[Math.round(v / 11)] || ""
        },
        grid: { display: false, drawTicks: false },
        border: { display: false },
        afterBuildTicks: everyNth(11),
        afterFit: s => { s.height = 106; noSidePad(s); }
      },
      y: {
        type: "linear", position: "left", min: 85, max: 134,
        ticks: {
          stepSize: 1, autoSkip: false, padding: 17, color: "#C8C8C8",
          font: { family: "Liberation Sans", size: 24 }
        },
        grid: { color: "#CCFFFF", lineWidth: 2, tickColor: "#FF0000", tickLength: 7, tickWidth: 4 },
        border: { color: "#FF0000", width: 4 },
        afterFit: s => { s.width = 104; noVerticalPad(s); },
        afterUpdate: s => {
          if (s._narrowed) return;
          s._narrowed = true;
          const draw = s.drawLabels;
          s.drawLabels = function (area) {
            const ctx = this.ctx, edge = this.right - 24;
            ctx.save();
            ctx.translate(edge, 0);
            ctx.scale(0.8, 1);
            ctx.translate(-edge, 0);
            draw.call(this, area);
            ctx.restore();
          };
        }
      },
      yR: {
        type: "linear", position: "right", min: -20.75, max: 5.5,
        ticks: {
          stepSize: 0.75, autoSkip: false, padding: 21, color: "#FFCC00",
          font: { family: "Liberation Sans", size: 21 },
          callback: v => String(Number(v.toFixed(2)))
        },
        grid: { drawOnChartArea: false, tickColor: "#FF9900", tickLength: -6, tickWidth: 3, color: "#FF9900" },
        border: { color: "#FF9900", width: 3 },
        afterFit: s => { s.width = 109; noVerticalPad(s); }
      }
    }
  }
});

const legendRows = document.getElementById("legendRows");
const rowY = [775, 802, 828, 855, 882, 909];
seriesNames.forEach((name, i) => {
  const bar = document.createElement("div");
  const h = i < 4 ? 4 : 2;
  bar.className = "lline";
  bar.style.cssText = `top:${rowY[i] - h / 2}px;height:${h}px;background:${seriesColors[i]};`;
  const txt = document.createElement("div");
  txt.className = "ltext";
  txt.textContent = name;
  txt.style.top = (rowY[i] - 13) + "px";
  if (i === 2 || i === 3) { txt.style.color = seriesColors[i]; txt.style.fontWeight = "700"; }
  if (i === 5) {
    txt.style.fontFamily = "Liberation Sans"; txt.style.letterSpacing = "0";
    txt.style.transformOrigin = "0 50%"; txt.style.transform = "scaleX(0.8)";
  }
  legendRows.appendChild(bar);
  legendRows.appendChild(txt);
});
</script>
</body>
</html>
